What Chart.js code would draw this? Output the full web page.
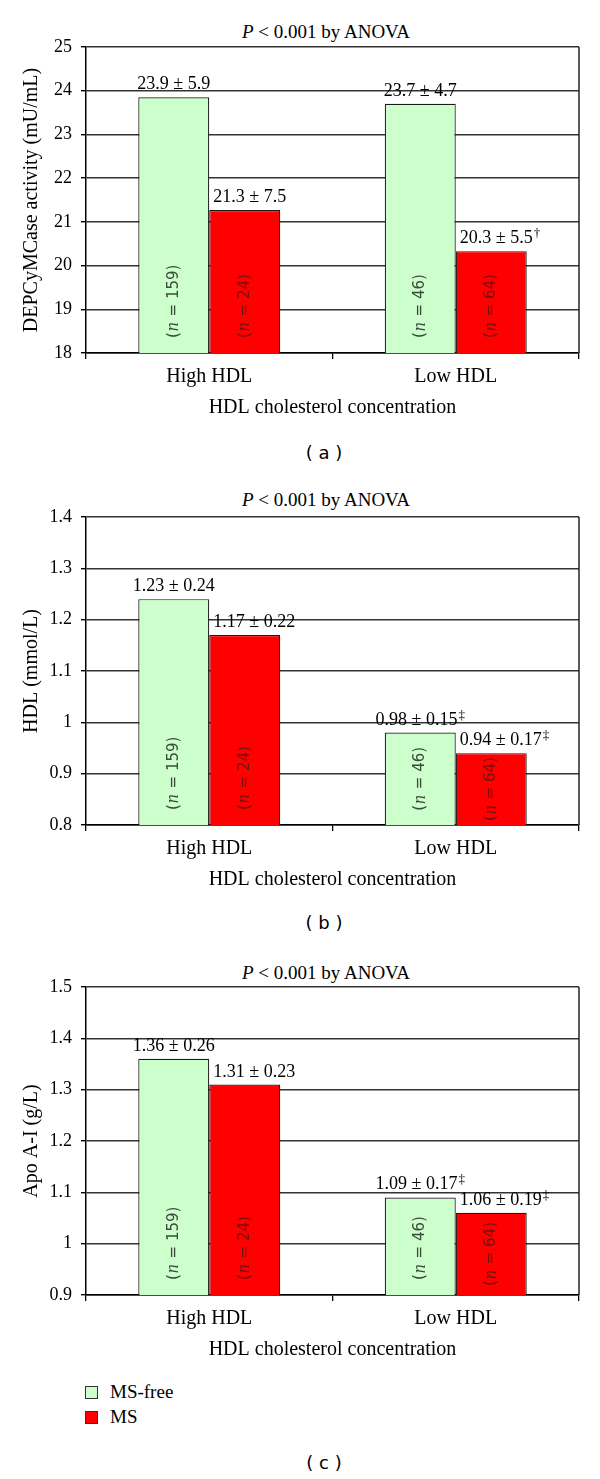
<!DOCTYPE html>
<html>
<head>
<meta charset="utf-8">
<script src="https://cdn.jsdelivr.net/npm/chart.js@4.4.0/dist/chart.umd.min.js"></script>
<style>
  body { margin: 0; background: #fff; width: 600px; height: 1479px; position: relative; overflow: hidden;
         font-family: "Liberation Serif", serif; color: #000; }
  .box { position: absolute; left: 0; width: 600px; height: 430px; }
  .title { position: absolute; left: 26px; width: 600px; text-align: center; font-size: 19px; line-height: 20px; }
  .cap { position: absolute; left: 24px; width: 600px; text-align: center; font-family: "DejaVu Sans", sans-serif;
         font-size: 18px; line-height: 20px; white-space: pre; }
  .leg { position: absolute; left: 85px; font-size: 19px; line-height: 22px; }
  .leg span { display: inline-block; width: 11px; height: 11px; border: 1px solid #333; margin-right: 12px; vertical-align: -1px; }
</style>
</head>
<body>
<div class="title" style="top:22px"><i>P</i> &lt; 0.001 by ANOVA</div>
<div class="box" style="top:0"><canvas id="chartA" width="600" height="430"></canvas></div>
<div class="cap" style="top:443px">( a )</div>

<div class="title" style="top:490px"><i>P</i> &lt; 0.001 by ANOVA</div>
<div class="box" style="top:470px"><canvas id="chartB" width="600" height="430"></canvas></div>
<div class="cap" style="top:913px">( b )</div>

<div class="title" style="top:963px"><i>P</i> &lt; 0.001 by ANOVA</div>
<div class="box" style="top:940px"><canvas id="chartC" width="600" height="430"></canvas></div>
<div class="leg" style="top:1381px"><span style="background:#ccffcc"></span>MS-free</div>
<div class="leg" style="top:1406px"><span style="background:#ff0000"></span>MS</div>
<div class="cap" style="top:1453px">( c )</div>

<script>
// groupes et séries
const categories = ['High HDL', 'Low HDL'];
const seriesNames = ['MS-free', 'MS'];
const nFree = [159, 46];
const nMs = [24, 64];

// (a) DEPCyMCase
const dpcFree = [23.85, 23.7];
const dpcMs = [21.27, 20.33];
const dpcTextFree = ['23.9 ± 5.9', '23.7 ± 4.7'];
const dpcTextMs = ['21.3 ± 7.5', '20.3 ± 5.5'];
const dpcMarkFree = ['', ''];
const dpcMarkMs = ['', '†'];
const dpcTicks = [18, 19, 20, 21, 22, 23, 24, 25];

// (b) HDL
const hdlFree = [1.24, 0.98];
const hdlMs = [1.17, 0.94];
const hdlTextFree = ['1.23 ± 0.24', '0.98 ± 0.15'];
const hdlTextMs = ['1.17 ± 0.22', '0.94 ± 0.17'];
const hdlMarkFree = ['', '‡'];
const hdlMarkMs = ['', '‡'];
const hdlTicks = [0.8, 0.9, 1, 1.1, 1.2, 1.3, 1.4];

// (c) Apo A-I
const apoFree = [1.36, 1.09];
const apoMs = [1.31, 1.06];
const apoTextFree = ['1.36 ± 0.26', '1.09 ± 0.17'];
const apoTextMs = ['1.31 ± 0.23', '1.06 ± 0.19'];
const apoMarkFree = ['', '‡'];
const apoMarkMs = ['', '‡'];
const apoTicks = [0.9, 1, 1.1, 1.2, 1.3, 1.4, 1.5];

Chart.defaults.font.family = '"Liberation Serif", serif';
Chart.defaults.color = '#000';

const GREEN = '#ccffcc';
const RED = '#ff0000';

/** bord droit du cadre */
const frame = {
  id: 'frame',
  beforeDatasetsDraw(chart) {
    const { ctx, chartArea: a } = chart;
    ctx.save();
    ctx.strokeStyle = '#222';
    ctx.lineWidth = 1.5;
    ctx.beginPath();
    ctx.moveTo(a.right, a.top);
    ctx.lineTo(a.right, a.bottom);
    ctx.stroke();
    ctx.restore();
  },
};

/** valeurs au-dessus des barres + effectifs (n = ...) dans les barres */
const barText = {
  id: 'barText',
  afterDatasetsDraw(chart) {
    const ctx = chart.ctx;
    const base = chart.chartArea.bottom;
    chart.data.datasets.forEach((ds, i) => {
      const meta = chart.getDatasetMeta(i);
      meta.data.forEach((bar, j) => {
        const left = bar.x - bar.width / 2;
        ctx.save();
        // valeur ± écart-type
        ctx.font = '18px "Liberation Serif"';
        ctx.fillStyle = '#000';
        ctx.textBaseline = 'alphabetic';
        const txt = ds.valueText[j];
        const mark = ds.marks[j];
        const w = ctx.measureText(txt).width;
        ctx.font = '13px "Liberation Serif"';
        const mw = mark ? ctx.measureText(mark).width + 1 : 0;
        const x0 = i === 0 ? bar.x - (w + mw) / 2 : left + 4;
        const yb = bar.y - 8;
        ctx.font = '18px "Liberation Serif"';
        ctx.fillText(txt, x0, yb);
        if (mark) {
          ctx.font = '13px "Liberation Serif"';
          ctx.fillText(mark, x0 + w + 1, yb - 6);
        }
        // (n = ...)
        const rest = ' = ' + ds.nCount[j] + ')';
        ctx.font = '15px "DejaVu Sans"';
        const wp = ctx.measureText('(').width;
        const wr = ctx.measureText(rest).width;
        ctx.font = 'italic 18px "Liberation Serif"';
        const wn = ctx.measureText('n').width + 2;
        const len = wp + wn + wr;
        const yc = Math.max((bar.y + base) / 2, base - 15 - len / 2);
        ctx.translate(bar.x, yc);
        ctx.rotate(-Math.PI / 2);
        ctx.textBaseline = 'middle';
        ctx.fillStyle = i === 0 ? '#3a4a3a' : '#701010';
        let x = -len / 2;
        ctx.font = '15px "DejaVu Sans"';
        ctx.fillText('(', x, 0); x += wp + 1;
        ctx.font = 'italic 18px "Liberation Serif"';
        ctx.fillText('n', x, 0); x += wn - 1;
        ctx.font = '15px "DejaVu Sans"';
        ctx.fillText(rest, x, 0);
        ctx.restore();
      });
    });
  },
};

function tickFmt(v) {
  return String(Number(v.toFixed(2)));
}

function makeChart(id, yTitle, ticks, free, ms, txtFree, txtMs, markFree, markMs, padBottom) {
  return new Chart(document.getElementById(id), {
    type: 'bar',
    data: {
      labels: categories,
      datasets: [
        {
          label: seriesNames[0], data: free, backgroundColor: GREEN, borderColor: '#1a1a1a', borderWidth: 1.2,
          valueText: txtFree, marks: markFree, nCount: nFree,
        },
        {
          label: seriesNames[1], data: ms, backgroundColor: RED, borderColor: '#1a1a1a', borderWidth: 1.2,
          valueText: txtMs, marks: markMs, nCount: nMs,
        },
      ],
    },
    options: {
      responsive: false,
      animation: false,
      layout: { padding: { top: 47, left: 0, right: 21, bottom: padBottom } },
      datasets: { bar: { categoryPercentage: 0.576, barPercentage: 1, borderSkipped: 'start' } },
      plugins: { legend: { display: false }, tooltip: { enabled: false } },
      scales: {
        x: {
          afterFit: s => { s.height = 70; },
          grid: { drawOnChartArea: false, drawTicks: true, tickLength: 6, color: '#000', lineWidth: 1.3, offset: true },
          border: { color: '#000', width: 1.5 },
          ticks: { font: { size: 20 }, padding: 6, color: '#000' },
          title: { display: true, text: 'HDL cholesterol concentration', font: { size: 20 }, padding: { top: 0, bottom: 3 }, color: '#000' },
        },
        y: {
          min: ticks[0],
          max: ticks[ticks.length - 1],
          afterFit: s => { s.width = 86; },
          afterBuildTicks: s => { s.ticks = ticks.map(v => ({ value: v })); },
          grid: { color: '#333', lineWidth: 1.4, tickLength: 5, tickColor: '#000' },
          border: { color: '#000', width: 1.5 },
          ticks: { font: { size: 18 }, padding: 9, color: '#000', callback: tickFmt },
          title: { display: true, text: yTitle, font: { size: 20 }, padding: { top: 20, bottom: 0 }, color: '#000' },
        },
      },
    },
    plugins: [frame, barText],
  });
}

makeChart('chartA', 'DEPCyMCase activity (mU/mL)', dpcTicks, dpcFree, dpcMs, dpcTextFree, dpcTextMs, dpcMarkFree, dpcMarkMs, 7);
makeChart('chartB', 'HDL (mmol/L)', hdlTicks, hdlFree, hdlMs, hdlTextFree, hdlTextMs, hdlMarkFree, hdlMarkMs, 5);
makeChart('chartC', 'Apo A-I (g/L)', apoTicks, apoFree, apoMs, apoTextFree, apoTextMs, apoMarkFree, apoMarkMs, 5);
</script>
</body>
</html>
